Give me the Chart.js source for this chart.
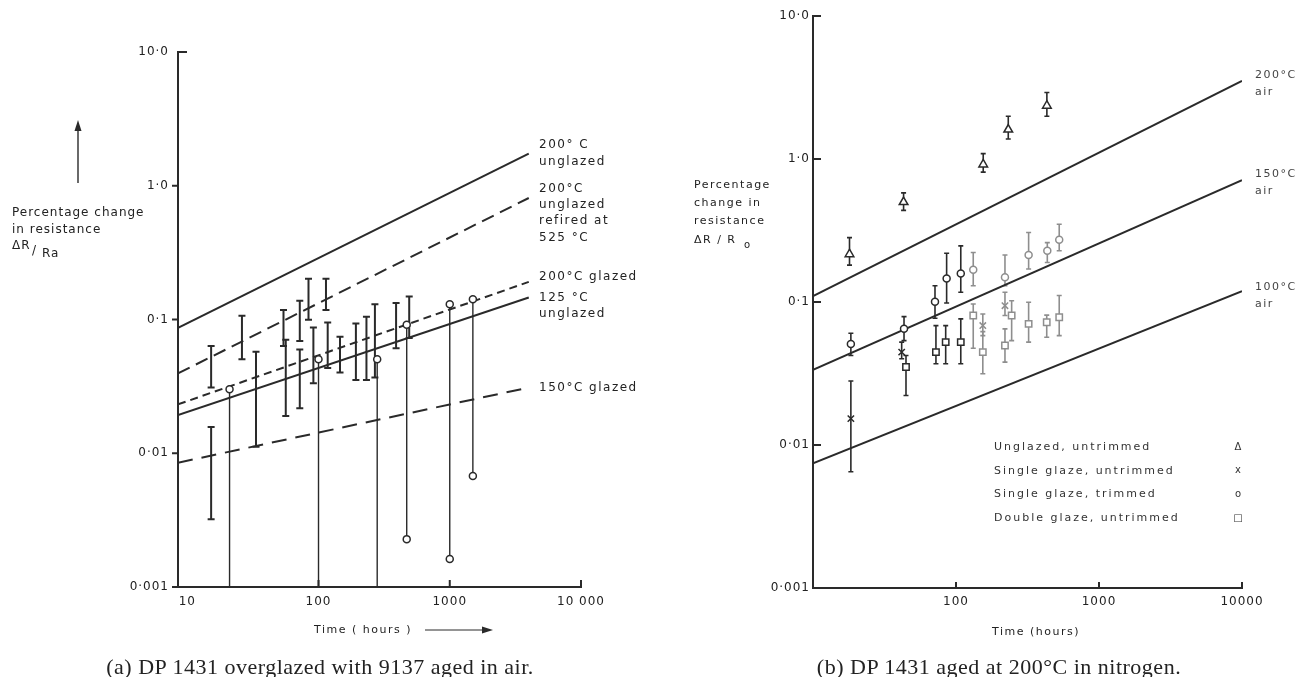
<!DOCTYPE html>
<html>
<head>
<meta charset="utf-8">
<script src="https://cdn.jsdelivr.net/npm/chart.js@4.4.1/dist/chart.umd.min.js"></script>
<style>
  body { margin: 0; background: #fff; width: 1308px; height: 677px; overflow: hidden; position: relative; }
  canvas { position: absolute; top: 0; }
  #chartA { left: 0; }
  #chartB { left: 660px; }
  .caption { position: absolute; top: 654px; line-height: 26px; font-family: "Liberation Serif", "DejaVu Serif", serif;
             font-size: 22px; letter-spacing: 0.5px; color: #222; white-space: nowrap; transform: translateX(-50%); }
</style>
</head>
<body>
<canvas id="chartA" width="660" height="677"></canvas>
<canvas id="chartB" width="648" height="677"></canvas>
<div class="caption" style="left:320px">(a) DP 1431 overglazed with 9137 aged in air.</div>
<div class="caption" style="left:999px">(b) DP 1431 aged at 200°C in nitrogen.</div>
<script>
const ink = '#2a2a2a';
const faint = '#8e8e8e';
const font = '"DejaVu Sans", "Liberation Sans", sans-serif';

// shared y axis (percentage change in resistance)
const changeTicks = [0.001, 0.01, 0.1, 1, 10];
const changeTickLabels = ['0·001', '0·01', '0·1', '1·0', '10·0'];

// ---- (a) overglazed, aged in air ----
const aTickHours = [10, 100, 1000, 10000];
const aTickLabels = ['10', '100', '1000', '10 000'];

const aLineNames = ['200° C unglazed', '200°C unglazed refired at 525°C', '200°C glazed', '125 °C unglazed', '150°C glazed'];
const aLineHours = [8.5, 4000];
const aLineStart = [0.0867, 0.0395, 0.0232, 0.0193, 0.0085];
const aLineEnd = [1.74, 0.81, 0.191, 0.146, 0.031];

const aBarHours = [15.2, 15.2, 26.1, 33.4, 54.1, 56.3, 72, 72, 83.9, 91.4, 114, 117.5, 145.8, 192.7, 231.9, 269, 390, 491];
const aBarHigh = [0.0635, 0.0157, 0.1066, 0.0575, 0.118, 0.0705, 0.138, 0.0596, 0.202, 0.0871, 0.202, 0.095, 0.0742, 0.0933, 0.1048, 0.1303, 0.1327, 0.1486];
const aBarLow = [0.031, 0.00321, 0.0505, 0.0112, 0.0635, 0.019, 0.0692, 0.0217, 0.0995, 0.0334, 0.1176, 0.0433, 0.0401, 0.0353, 0.0353, 0.0368, 0.061, 0.0726];

// circles whose spread runs down to a second circle, or off the bottom (null)
const aDropHours = [21, 100, 280, 470, 1000, 1500];
const aDropTop = [0.0301, 0.0505, 0.0505, 0.0912, 0.130, 0.142];
const aDropBottom = [null, null, null, 0.00228, 0.00162, 0.00675];

// ---- (b) aged at 200°C in nitrogen ----
const bTickHours = [10, 100, 1000, 10000];
const bTickLabels = ['', '100', '1000', '10000'];

const bLineNames = ['200°C air', '150°C air', '100°C air'];
const bLineHours = [10, 10000];
const bLineStart = [0.110, 0.0336, 0.00745];
const bLineEnd = [3.52, 0.711, 0.119];

const unglazedHours = [18, 43, 155, 232, 432];
const unglazedMid = [0.216, 0.5, 0.916, 1.606, 2.36];
const unglazedHigh = [0.282, 0.58, 1.09, 1.99, 2.92];
const unglazedLow = [0.181, 0.437, 0.809, 1.38, 1.99];

const singleHours = [18.4, 41.7, 154, 220];
const singleMid = [0.0153, 0.0446, 0.0684, 0.0942];
const singleHigh = [0.028, 0.0524, 0.0824, 0.117];
const singleLow = [0.0065, 0.0401, 0.0582, 0.0804];

const trimmedHours = [18.4, 43.3, 71.3, 86, 108, 132, 220, 322, 435, 527];
const trimmedMid = [0.0509, 0.0649, 0.1004, 0.146, 0.158, 0.168, 0.149, 0.213, 0.228, 0.272];
const trimmedHigh = [0.0605, 0.079, 0.130, 0.219, 0.247, 0.222, 0.213, 0.306, 0.26, 0.35];
const trimmedLow = [0.0423, 0.0537, 0.0769, 0.0984, 0.117, 0.130, 0.130, 0.170, 0.189, 0.228];

const doubleHours = [44.7, 72.4, 84.7, 108, 132, 154, 220, 245, 322, 431, 527];
const doubleMid = [0.0351, 0.0446, 0.0524, 0.0524, 0.0804, 0.0446, 0.0496, 0.0804, 0.0703, 0.0722, 0.0782];
const doubleHigh = [0.0423, 0.0684, 0.0684, 0.0762, 0.0968, 0.0621, 0.0649, 0.102, 0.0996, 0.081, 0.111];
const doubleLow = [0.0222, 0.037, 0.037, 0.037, 0.0475, 0.0315, 0.038, 0.0537, 0.0524, 0.0567, 0.0582];

const legendNames = ['Unglazed, untrimmed', 'Single glaze, untrimmed', 'Single glaze, trimmed', 'Double glaze, untrimmed'];
const legendSymbols = ['Δ', 'x', 'o', '□'];

// helpers
const pairs = (xs, ys) => xs.map((x, i) => ({ x: x, y: ys[i] }));
// the scan is paler in the middle of panel (b)
const tint = h => (h > 125 && h < 600) ? faint : ink;

function text(ctx, str, x, y, size, opts) {
  opts = opts || {};
  ctx.save();
  ctx.font = size + 'px ' + font;
  ctx.fillStyle = opts.color || '#222';
  ctx.textAlign = opts.align || 'left';
  ctx.textBaseline = 'middle';
  ctx.letterSpacing = (opts.spacing === undefined ? 1 : opts.spacing) + 'px';
  ctx.fillText(str, x, y);
  ctx.restore();
}

function errorBar(ctx, px, top, bottom, half) {
  ctx.beginPath();
  ctx.moveTo(px, top); ctx.lineTo(px, bottom);
  ctx.moveTo(px - half, top); ctx.lineTo(px + half, top);
  ctx.moveTo(px - half, bottom); ctx.lineTo(px + half, bottom);
  ctx.stroke();
}

function arrowHead(ctx, x, y, dir) {
  // dir: 'up' or 'right'
  ctx.beginPath();
  if (dir === 'up') { ctx.moveTo(x, y); ctx.lineTo(x - 3.5, y + 11); ctx.lineTo(x + 3.5, y + 11); }
  else { ctx.moveTo(x, y); ctx.lineTo(x - 11, y - 3.5); ctx.lineTo(x - 11, y + 3.5); }
  ctx.closePath();
  ctx.fill();
}

function logAxis(min, max, ticks, labels, opts) {
  return {
    type: 'logarithmic', min: min, max: max,
    afterBuildTicks: s => { s.ticks = ticks.map(v => ({ value: v })); },
    afterFit: s => { if (opts.width) s.width = opts.width; if (opts.height) s.height = opts.height; },
    grid: { display: false, drawTicks: false },
    border: { display: true, color: ink, width: 2 },
    ticks: {
      autoSkip: false, maxRotation: 0, padding: opts.padding, color: '#222',
      font: { family: font, size: 12 },
      callback: v => labels[ticks.indexOf(v)]
    }
  };
}

function lineSets(names, hours, start, end, dashes) {
  return names.map((name, i) => ({
    label: name, showLine: true,
    data: [{ x: hours[0], y: start[i] }, { x: hours[1], y: end[i] }],
    borderColor: ink, borderWidth: 2, borderDash: dashes[i], pointRadius: 0
  }));
}

// ---------------- chart (a) ----------------
const aExtras = {
  id: 'aExtras',
  beforeDraw(chart) { chart.ctx.letterSpacing = '1px'; },
  beforeDatasetsDraw(chart) {
    const { ctx, scales: { x, y } } = chart;
    ctx.save();
    ctx.strokeStyle = ink;
    ctx.lineWidth = 1.4;
    aDropHours.forEach((h, i) => {
      const px = x.getPixelForValue(h);
      const end = aDropBottom[i] === null ? y.bottom : y.getPixelForValue(aDropBottom[i]);
      ctx.beginPath(); ctx.moveTo(px, y.getPixelForValue(aDropTop[i])); ctx.lineTo(px, end); ctx.stroke();
    });
    ctx.lineWidth = 2;
    aBarHours.forEach((h, i) => {
      errorBar(ctx, x.getPixelForValue(h), y.getPixelForValue(aBarHigh[i]), y.getPixelForValue(aBarLow[i]), 3.5);
    });
    ctx.restore();
  },
  afterDraw(chart) {
    const { ctx, chartArea: area, scales: { x, y } } = chart;
    ctx.save();
    ctx.strokeStyle = ink; ctx.fillStyle = ink; ctx.lineWidth = 2;
    changeTicks.forEach(v => {
      const py = y.getPixelForValue(v);
      ctx.beginPath();
      if (v === 10) { ctx.moveTo(area.left, py); ctx.lineTo(area.left + 9, py); }
      else { ctx.moveTo(area.left - 6, py); ctx.lineTo(area.left, py); }
      ctx.stroke();
    });
    aTickHours.slice(1).forEach(v => {
      const px = x.getPixelForValue(v);
      ctx.beginPath(); ctx.moveTo(px, area.bottom); ctx.lineTo(px, area.bottom - 7); ctx.stroke();
    });
    // y title with arrow
    ctx.lineWidth = 1.4;
    ctx.beginPath(); ctx.moveTo(78, 183); ctx.lineTo(78, 128); ctx.stroke();
    arrowHead(ctx, 78, 120, 'up');
    text(ctx, 'Percentage change', 12, 213, 12);
    text(ctx, 'in resistance', 12, 230, 12);
    text(ctx, 'ΔR', 12, 246, 12);
    text(ctx, '/', 32, 251, 12);
    text(ctx, 'Ra', 42, 254, 12);
    // line labels
    [['200° C', 145], ['unglazed', 162], ['200°C', 189], ['unglazed', 205], ['refired at', 221],
     ['525 °C', 238], ['200°C glazed', 277], ['125 °C', 298], ['unglazed', 314], ['150°C glazed', 388]]
      .forEach(t => text(ctx, t[0], 539, t[1], 12, { spacing: 1.5 }));
    // x title with arrow
    text(ctx, 'Time ( hours )', 314, 630, 11, { spacing: 1.5 });
    ctx.lineWidth = 1;
    ctx.beginPath(); ctx.moveTo(425, 630); ctx.lineTo(484, 630); ctx.stroke();
    arrowHead(ctx, 493, 630, 'right');
    ctx.restore();
  }
};

new Chart(document.getElementById('chartA'), {
  type: 'scatter',
  data: {
    datasets: [
      {
        label: 'spread top', data: pairs(aDropHours, aDropTop),
        pointStyle: 'circle', pointRadius: 3.5, backgroundColor: '#fff', borderColor: ink, borderWidth: 1.5
      },
      {
        label: 'spread bottom',
        data: pairs(aDropHours, aDropBottom).filter(p => p.y !== null),
        pointStyle: 'circle', pointRadius: 3.5, backgroundColor: '#fff', borderColor: ink, borderWidth: 1.5
      }
    ].concat(lineSets(aLineNames, aLineHours, aLineStart, aLineEnd, [[], [13, 7], [8, 5], [], [15, 9]]))
  },
  options: {
    responsive: false, animation: false,
    layout: { padding: { left: 118, right: 79, top: 52, bottom: 40 } },
    plugins: { legend: { display: false }, tooltip: { enabled: false } },
    scales: {
      x: logAxis(8.5, 10000, aTickHours, aTickLabels, { height: 50, padding: 8 }),
      y: logAxis(0.001, 10, changeTicks, changeTickLabels, { width: 60, padding: 9 })
    }
  },
  plugins: [aExtras]
});

// ---------------- chart (b) ----------------
const bSeries = [
  [unglazedHours, unglazedHigh, unglazedLow, false],
  [singleHours, singleHigh, singleLow, true],
  [trimmedHours, trimmedHigh, trimmedLow, true],
  [doubleHours, doubleHigh, doubleLow, true]
];

const bExtras = {
  id: 'bExtras',
  beforeDraw(chart) { chart.ctx.letterSpacing = '1px'; },
  beforeDatasetsDraw(chart) {
    const { ctx, scales: { x, y } } = chart;
    ctx.save();
    ctx.lineWidth = 1.6;
    bSeries.forEach(s => {
      s[0].forEach((h, i) => {
        ctx.strokeStyle = s[3] ? tint(h) : ink;
        errorBar(ctx, x.getPixelForValue(h), y.getPixelForValue(s[1][i]), y.getPixelForValue(s[2][i]), 2.5);
      });
    });
    ctx.restore();
  },
  afterDraw(chart) {
    const { ctx, chartArea: area, scales: { x, y } } = chart;
    ctx.save();
    ctx.strokeStyle = ink; ctx.lineWidth = 2;
    changeTicks.forEach(v => {
      const py = y.getPixelForValue(v);
      ctx.beginPath(); ctx.moveTo(area.left, py); ctx.lineTo(area.left + 8, py); ctx.stroke();
    });
    bTickHours.slice(1).forEach(v => {
      const px = x.getPixelForValue(v);
      ctx.beginPath(); ctx.moveTo(px, area.bottom); ctx.lineTo(px, area.bottom - 6); ctx.stroke();
    });
    text(ctx, 'Percentage', 34, 185, 11, { spacing: 1.5 });
    text(ctx, 'change in', 34, 203, 11, { spacing: 1.5 });
    text(ctx, 'resistance', 34, 221, 11, { spacing: 1.5 });
    text(ctx, 'ΔR / R', 34, 240, 11, { spacing: 1.5 });
    text(ctx, 'o', 84, 245, 10, { spacing: 0 });
    [['200°C', 75], ['air', 92], ['150°C', 174], ['air', 191], ['100°C', 287], ['air', 304]]
      .forEach(t => text(ctx, t[0], 595, t[1], 11, { spacing: 1.5, color: '#444' }));
    legendNames.forEach((name, i) => {
      text(ctx, name, 334, 447 + i * 23.7, 11, { spacing: 2, color: '#333' });
      text(ctx, legendSymbols[i], 578, 447 + i * 23.7, 10, { spacing: 0, color: '#333', align: 'center' });
    });
    text(ctx, 'Time (hours)', 376, 632, 11, { spacing: 1.5, align: 'center' });
    ctx.restore();
  }
};

const marker = (label, hours, mid, style, radius, faded) => ({
  label: label, data: pairs(hours, mid), pointStyle: style, pointRadius: radius,
  backgroundColor: '#fff', borderWidth: 1.5,
  borderColor: faded ? (c => tint(c.raw ? c.raw.x : 0)) : ink
});

new Chart(document.getElementById('chartB'), {
  type: 'scatter',
  data: {
    datasets: [
      marker(legendNames[0], unglazedHours, unglazedMid, 'triangle', 5, false),
      marker(legendNames[1], singleHours, singleMid, 'crossRot', 4.5, true),
      marker(legendNames[2], trimmedHours, trimmedMid, 'circle', 3.5, true),
      marker(legendNames[3], doubleHours, doubleMid, 'rect', 4.5, true)
    ].concat(lineSets(bLineNames, bLineHours, bLineStart, bLineEnd, [[], [], []]))
  },
  options: {
    responsive: false, animation: false,
    layout: { padding: { left: 103, right: 66, top: 16, bottom: 49 } },
    plugins: { legend: { display: false }, tooltip: { enabled: false } },
    scales: {
      x: logAxis(10, 10000, bTickHours, bTickLabels, { height: 40, padding: 7 }),
      y: logAxis(0.001, 10, changeTicks, changeTickLabels, { width: 50, padding: 3 })
    }
  },
  plugins: [bExtras]
});
</script>
</body>
</html>
